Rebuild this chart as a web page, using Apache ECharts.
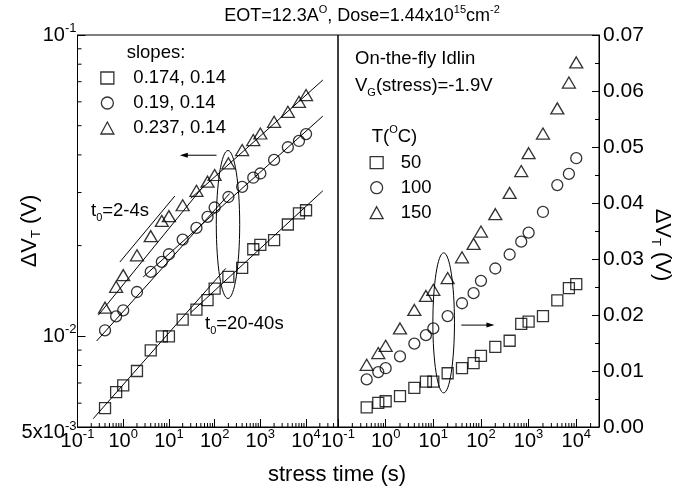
<!DOCTYPE html>
<html><head><meta charset="utf-8">
<script src="https://cdn.jsdelivr.net/npm/echarts@6/dist/echarts.min.js"></script>
<style>html,body{margin:0;padding:0;background:#fff}#c{width:686px;height:492px}</style>
</head><body><div id="c"></div>
<script>
// ---------- data ----------
const times = [0.4, 0.7, 1, 2, 4, 7, 10, 20, 40, 70, 100, 200, 400, 700, 1000, 2000, 4000, 7000, 10000];
const leftSquares   = [0.00578, 0.00653, 0.00687, 0.00767, 0.00898, 0.0100, 0.0100, 0.01136, 0.01227, 0.01318, 0.0144, 0.01574, 0.01686, 0.01945, 0.0201, 0.02084, 0.0235, 0.0256, 0.0262];
const leftCircles   = [0.01047, 0.01165, 0.0122, 0.01403, 0.01636, 0.01767, 0.01872, 0.02094, 0.0229, 0.0249, 0.02676, 0.0290, 0.03133, 0.0336, 0.0347, 0.0385, 0.0424, 0.0445, 0.0469];
const leftTriangles = [0.01245, 0.0146, 0.01596, 0.01857, 0.0215, 0.02415, 0.02505, 0.02722, 0.0304, 0.0326, 0.0343, 0.0375, 0.0415, 0.0448, 0.0471, 0.0515, 0.0556, 0.060, 0.0632];
const rightSquares   = [0.0035, 0.0043, 0.0046, 0.0055, 0.0070, 0.0081, 0.0081, 0.0096, 0.0105, 0.0114, 0.0127, 0.0143, 0.0154, 0.0184, 0.0188, 0.0198, 0.0226, 0.0248, 0.0255];
const rightCircles   = [0.0085, 0.0098, 0.0105, 0.0126, 0.0149, 0.0164, 0.0176, 0.0198, 0.0221, 0.0239, 0.0261, 0.0283, 0.0308, 0.0331, 0.0347, 0.0384, 0.0432, 0.0452, 0.0480];
const rightTriangles = [0.0111, 0.0132, 0.0145, 0.0176, 0.0209, 0.0234, 0.0245, 0.0266, 0.0303, 0.0327, 0.0349, 0.0380, 0.0418, 0.0457, 0.0489, 0.0524, 0.0569, 0.0615, 0.0651];
const leftNames  = ['0.174, 0.14', '0.19, 0.14', '0.237, 0.14'];
const rightNames = ['50', '100', '150'];
// fitted power-law lines (endpoints)
const fitSquaresEarly   = [[0.221, 0.00533], [175, 0.0168]];
const fitSquaresLate    = [[30, 0.01198], [23300, 0.0304]];
const fitCirclesEarly   = [[0.262, 0.00965], [214, 0.0298]];
const fitCirclesLate    = [[2.74, 0.01574], [23300, 0.0538]];
const fitTrianglesEarly = [[0.285, 0.01175], [60, 0.0318]];
const fitTrianglesLate  = [[30, 0.0287], [23300, 0.0709]];
const fitTrianglesT0    = [[0.847, 0.01765], [13.45, 0.0292]];
// annotations (data coordinates)
const leftEllipse  = [[196, 0.0235]];
const rightEllipse = [[16.5, 0.0186]];
const leftArrow  = [[110, 0.0399, 17.3, 0.0399]];
const rightArrow = [[38.7, 0.0182, 192, 0.0182]];
// axis settings
const leftXRange = [0.1, 50000];
const rightXRange = [0.1, 30000];
const leftYRange = [0.005, 0.1];
const rightYRange = [0, 0.07];
const minorMantissas = [2, 3, 4, 5, 6, 7, 8, 9];
const decades = [-3, -2, -1, 0, 1, 2, 3, 4];

// ---------- helpers ----------
const FONT = 'Liberation Sans, Arial, sans-serif';
const pair = (arr) => times.map((t, i) => [t, arr[i]]);
function minorValues(lo, hi) {
  const out = [];
  decades.forEach(d => minorMantissas.forEach(m => {
    const v = m * Math.pow(10, d);
    if (v > lo * 1.0001 && v < hi * 0.9999) out.push(v);
  }));
  return out;
}
function logLabel(v, onlyPow) {
  const e = Math.floor(Math.log10(v) + 1e-9);
  const m = Math.round(v / Math.pow(10, e) * 1000) / 1000;
  if (m === 1) return '10{sup|' + e + '}';
  if (onlyPow) return '';
  return '{lo|' + m + 'x10}{losup|' + e + '}';
}
const supStyle = (fs) => ({
  sup: { fontSize: fs, fontFamily: FONT, color: '#000', verticalAlign: 'top', lineHeight: 10 },
  lo: { fontSize: 20, fontFamily: FONT, color: '#000', lineHeight: 26, padding: [10, 0, 0, 0] },
  losup: { fontSize: fs, fontFamily: FONT, color: '#000', verticalAlign: 'top', lineHeight: 10, padding: [6, 0, 0, 0] }
});
const markerStyle = { color: 'rgba(0,0,0,0)', borderColor: '#000', borderWidth: 1.3 };

function scatter(name, data, symbol, size, gi) {
  return { type: 'scatter', name, data, symbol, symbolSize: size, xAxisIndex: gi, yAxisIndex: gi,
    itemStyle: markerStyle, z: 5, silent: true };
}
function fitLine(data) {
  return { type: 'line', data, xAxisIndex: 0, yAxisIndex: 0, symbol: 'none', silent: true,
    lineStyle: { color: '#000', width: 1 }, z: 3 };
}
function tickSeries(data, gi, dir) {
  return { type: 'custom', xAxisIndex: gi, yAxisIndex: gi, data, silent: true, z: 6,
    renderItem: (p, api) => {
      const c = api.coord([api.value(0), api.value(1)]);
      const len = 4;
      return { type: 'line', shape: dir === 'x'
        ? { x1: c[0], y1: c[1], x2: c[0], y2: c[1] - len }
        : { x1: c[0], y1: c[1], x2: c[0] + len, y2: c[1] },
        style: { stroke: '#000', lineWidth: 1 } };
    } };
}
function ellipseSeries(data, gi, rx, ry) {
  return { type: 'custom', xAxisIndex: gi, yAxisIndex: gi, data, silent: true, z: 4,
    renderItem: (p, api) => {
      const c = api.coord([api.value(0), api.value(1)]);
      return { type: 'ellipse', shape: { cx: c[0], cy: c[1], rx, ry },
        style: { fill: 'none', stroke: '#000', lineWidth: 1 } };
    } };
}
function arrowSeries(data, gi) {
  return { type: 'custom', xAxisIndex: gi, yAxisIndex: gi, data, silent: true, z: 4,
    renderItem: (p, api) => {
      const a = api.coord([api.value(0), api.value(1)]);
      const b = api.coord([api.value(2), api.value(3)]);
      const dir = b[0] > a[0] ? 1 : -1;
      const hl = 8, hw = 2.5;
      return { type: 'group', children: [
        { type: 'line', shape: { x1: a[0], y1: a[1], x2: b[0] - dir * hl * 0.6, y2: b[1] }, style: { stroke: '#000', lineWidth: 1 } },
        { type: 'polygon', shape: { points: [[b[0], b[1]], [b[0] - dir * hl, b[1] - hw], [b[0] - dir * hl, b[1] + hw]] }, style: { fill: '#000' } }
      ] };
    } };
}

const chart = echarts.init(document.getElementById('c'));
const axisLineStyle = { show: true, lineStyle: { color: '#000', width: 1 } };
const nameRich = { sub: { fontSize: 13, fontFamily: FONT, color: '#000', verticalAlign: 'bottom', lineHeight: 12 } };

chart.setOption({
  animation: false,
  backgroundColor: '#fff',
  grid: [
    { left: 77.5, top: 35, width: 260.5, height: 392, show: true, borderColor: '#000', borderWidth: 1, outerBoundsMode: 'none' },
    { left: 338, top: 35, width: 261, height: 392, show: true, borderColor: '#000', borderWidth: 1, outerBoundsMode: 'none' }
  ],
  xAxis: [
    { type: 'log', gridIndex: 0, min: leftXRange[0], max: leftXRange[1], logBase: 10,
      axisLine: axisLineStyle, axisTick: { show: true, inside: true, length: 8, lineStyle: { color: '#000' } },
      splitLine: { show: false },
      axisLabel: { margin: 1, fontSize: 20, fontFamily: FONT, color: '#000', lineHeight: 26,
        formatter: v => logLabel(v, true), rich: supStyle(13), showMinLabel: true, showMaxLabel: true } },
    { type: 'log', gridIndex: 1, min: rightXRange[0], max: rightXRange[1], logBase: 10,
      axisLine: axisLineStyle, axisTick: { show: true, inside: true, length: 8, lineStyle: { color: '#000' } },
      splitLine: { show: false },
      axisLabel: { margin: 1, fontSize: 20, fontFamily: FONT, color: '#000', lineHeight: 26,
        formatter: v => logLabel(v, true), rich: supStyle(13), showMinLabel: true, showMaxLabel: true } }
  ],
  yAxis: [
    { type: 'log', gridIndex: 0, min: leftYRange[0], max: leftYRange[1], logBase: 10,
      axisLine: axisLineStyle, axisTick: { show: true, inside: true, length: 8, lineStyle: { color: '#000' } },
      splitLine: { show: false },
      axisLabel: { margin: 1, fontSize: 20, fontFamily: FONT, color: '#000', lineHeight: 26,
        formatter: v => logLabel(v, false), rich: supStyle(13), showMinLabel: true, showMaxLabel: true },
      name: 'ΔV{sub|T} (V)', nameLocation: 'middle', nameRotate: 90, nameGap: 35, nameMoveOverlap: false,
      nameTextStyle: { fontSize: 22, fontFamily: FONT, color: '#000', lineHeight: 26, rich: nameRich } },
    { type: 'value', gridIndex: 1, min: rightYRange[0], max: rightYRange[1], interval: 0.01, position: 'right',
      axisLine: axisLineStyle, axisTick: { show: true, inside: true, length: 7, lineStyle: { color: '#000' } },
      minorTick: { show: true, splitNumber: 2, length: 4, lineStyle: { color: '#000' } },
      splitLine: { show: false },
      axisLabel: { margin: 4, fontSize: 21, fontFamily: FONT, color: '#000', formatter: v => v.toFixed(2) },
      name: 'ΔV{sub|T} (V)', nameLocation: 'middle', nameRotate: -90, nameGap: 50, nameMoveOverlap: false,
      nameTextStyle: { fontSize: 22, fontFamily: FONT, color: '#000', lineHeight: 26, rich: nameRich, padding: [0, 0, 0, 28] } }
  ],
  legend: [
    { data: leftNames, orient: 'vertical', left: 100.2, top: 68, padding: 0, itemWidth: 13, itemHeight: 12, itemGap: 5,
      symbolKeepAspect: true,
      selectedMode: false, itemStyle: { color: 'rgba(0,0,0,0)', borderColor: '#000', borderWidth: 1.3 },
      textStyle: { fontSize: 18.5, fontFamily: FONT, color: '#000', lineHeight: 20, padding: [0, 0, 0, 14.5] } },
    { data: rightNames, orient: 'vertical', left: 369.5, top: 152.7, padding: 0, itemWidth: 13, itemHeight: 12, itemGap: 5,
      symbolKeepAspect: true,
      selectedMode: false, itemStyle: { color: 'rgba(0,0,0,0)', borderColor: '#000', borderWidth: 1.3 },
      textStyle: { fontSize: 18.5, fontFamily: FONT, color: '#000', lineHeight: 20, padding: [0, 0, 0, 12.5] } }
  ],
  graphic: [
    { type: 'text', x: 362, y: 16, style: { text: 'EOT=12.3A{sup|O}, Dose=1.44x10{sup|15}cm{sup|-2}', fontSize: 18, fontFamily: FONT, fill: '#000',
      lineHeight: 24, align: 'center', verticalAlign: 'middle',
      rich: { sup: { fontSize: 11, fontFamily: FONT, fill: '#000', verticalAlign: 'top', lineHeight: 10 } } } },
    { type: 'text', x: 337, y: 475, style: { text: 'stress time (s)', fontSize: 22, fontFamily: FONT, fill: '#000', align: 'center', verticalAlign: 'middle' } },
    { type: 'text', x: 126.7, y: 53.3, style: { text: 'slopes:', fontSize: 18.5, fontFamily: FONT, fill: '#000', verticalAlign: 'middle' } },
    { type: 'text', x: 355, y: 59.3, style: { text: 'On-the-fly Idlin', fontSize: 18.5, fontFamily: FONT, fill: '#000', verticalAlign: 'middle' } },
    { type: 'text', x: 355, y: 86, style: { text: 'V{sub|G}(stress)=-1.9V', fontSize: 18.5, fontFamily: FONT, fill: '#000', verticalAlign: 'middle', lineHeight: 24,
      rich: { sub: { fontSize: 11, fontFamily: FONT, fill: '#000', verticalAlign: 'bottom', lineHeight: 10 } } } },
    { type: 'text', x: 371.7, y: 137, style: { text: 'T({sup|O}C)', fontSize: 18.5, fontFamily: FONT, fill: '#000', verticalAlign: 'middle', lineHeight: 26,
      rich: { sup: { fontSize: 11, fontFamily: FONT, fill: '#000', verticalAlign: 'top', lineHeight: 10 } } } },
    { type: 'text', x: 91, y: 211, style: { text: 't{sub|0}=2-4s', fontSize: 18.5, fontFamily: FONT, fill: '#000', verticalAlign: 'middle', lineHeight: 24,
      rich: { sub: { fontSize: 11, fontFamily: FONT, fill: '#000', verticalAlign: 'bottom', lineHeight: 10 } } } },
    { type: 'text', x: 205, y: 324, style: { text: 't{sub|0}=20-40s', fontSize: 18.5, fontFamily: FONT, fill: '#000', verticalAlign: 'middle', lineHeight: 24,
      rich: { sub: { fontSize: 11, fontFamily: FONT, fill: '#000', verticalAlign: 'bottom', lineHeight: 10 } } } }
  ],
  series: [
    scatter(leftNames[0], pair(leftSquares), 'rect', 11, 0),
    scatter(leftNames[1], pair(leftCircles), 'circle', 11, 0),
    scatter(leftNames[2], pair(leftTriangles), 'triangle', [13, 11], 0),
    scatter(rightNames[0], pair(rightSquares), 'rect', 11, 1),
    scatter(rightNames[1], pair(rightCircles), 'circle', 11, 1),
    scatter(rightNames[2], pair(rightTriangles), 'triangle', [13, 11], 1),
    fitLine(fitSquaresEarly), fitLine(fitSquaresLate),
    fitLine(fitCirclesEarly), fitLine(fitCirclesLate),
    fitLine(fitTrianglesEarly), fitLine(fitTrianglesLate), fitLine(fitTrianglesT0),
    ellipseSeries(leftEllipse, 0, 11.7, 74),
    ellipseSeries(rightEllipse, 1, 10.8, 70),
    arrowSeries(leftArrow, 0),
    arrowSeries(rightArrow, 1),
    tickSeries(minorValues(leftXRange[0], leftXRange[1]).map(v => [v, leftYRange[0]]), 0, 'x'),
    tickSeries(minorValues(rightXRange[0], rightXRange[1]).map(v => [v, rightYRange[0]]), 1, 'x'),
    tickSeries(minorValues(leftYRange[0], leftYRange[1]).map(v => [leftXRange[0], v]), 0, 'y')
  ]
});
</script></body></html>
